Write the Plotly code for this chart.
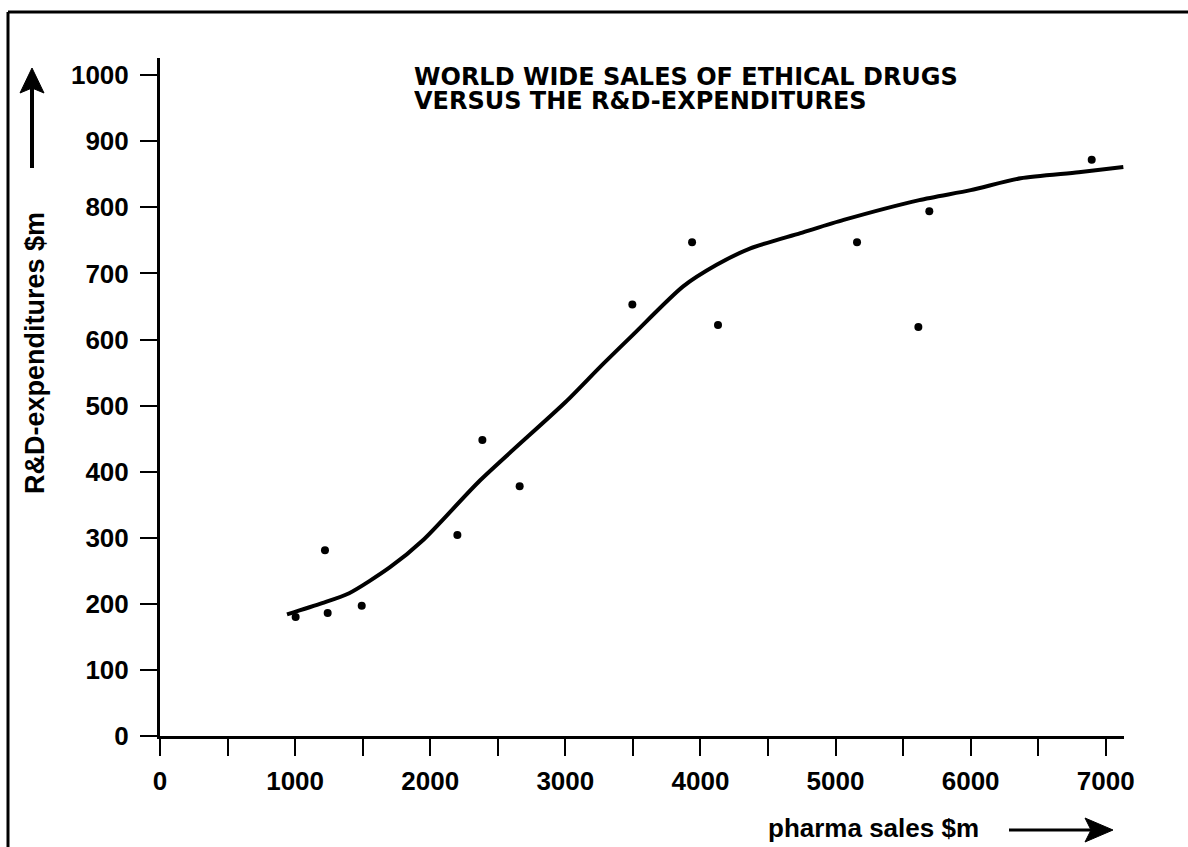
import plotly.graph_objects as go

# ---- data ----
sales = [1004, 1221, 1241, 1493, 2201, 2386, 2662, 3496, 3938, 4130, 5159, 5613, 5694, 6896]
rnd = [180, 281, 186, 197, 304, 448, 378, 653, 747, 622, 747, 619, 794, 872]

fit_x = [940, 1200, 1400, 1700, 1950, 2370, 3000, 3260, 3500, 3870, 4120, 4370, 4740, 5060, 5620, 6000, 6370, 6800, 7130]
fit_y = [184, 201, 216, 255, 297, 387, 505, 559, 607, 680, 713, 738, 761, 781, 811, 826, 844, 853, 861]

x_ticks = [0, 1000, 2000, 3000, 4000, 5000, 6000, 7000]
x_minor = [500, 1500, 2500, 3500, 4500, 5500, 6500]
y_ticks = [0, 100, 200, 300, 400, 500, 600, 700, 800, 900, 1000]

title_lines = ["WORLD WIDE SALES OF ETHICAL DRUGS", "VERSUS THE R&D-EXPENDITURES"]
x_title = "pharma sales $m"
y_title = "R&D-expenditures $m"

# ---- layout geometry (pixels) ----
W, H = 1188, 847
L, R, T, B = 160, 64, 58, 111
PW, PH = W - L - R, H - T - B


def px(x):
    return (x - L) / PW


def py(y):
    return (H - B - y) / PH


fig = go.Figure()
fig.add_trace(go.Scatter(x=fit_x, y=fit_y, mode="lines",
                         line=dict(color="black", width=4, shape="spline", smoothing=0.7),
                         hoverinfo="skip"))
fig.add_trace(go.Scatter(x=sales, y=rnd, mode="markers",
                         marker=dict(color="black", size=8)))

tick_font = dict(family="Liberation Sans, Arial, sans-serif", size=26, color="black", weight="bold")

fig.update_layout(
    width=W, height=H,
    margin=dict(l=L, r=R, t=T, b=B, pad=0),
    paper_bgcolor="white", plot_bgcolor="white",
    showlegend=False,
    xaxis=dict(range=[0, 7135], tickvals=x_ticks, ticktext=[str(v) for v in x_ticks],
               showgrid=False, zeroline=False, showline=True, linecolor="black", linewidth=3,
               ticks="outside", ticklen=17, tickwidth=2, tickcolor="black",
               tickfont=tick_font, ticklabelstandoff=3,
               minor=dict(tickvals=x_minor, ticks="outside", ticklen=17, tickwidth=2,
                          tickcolor="black", showgrid=False)),
    yaxis=dict(range=[0, 1026], tickvals=y_ticks, ticktext=[str(v) for v in y_ticks],
               showgrid=False, zeroline=False, showline=True, linecolor="black", linewidth=3,
               ticks="outside", ticklen=17, tickwidth=2, tickcolor="black",
               tickfont=tick_font, ticklabelstandoff=6),
)

shapes = []
# frame (top and left)
shapes.append(dict(type="line", xref="paper", yref="paper", x0=px(8), y0=py(12), x1=px(1192), y1=py(12),
                   line=dict(color="black", width=3)))
shapes.append(dict(type="line", xref="paper", yref="paper", x0=px(8), y0=py(12), x1=px(8), y1=py(850),
                   line=dict(color="black", width=3)))
# y arrow
shapes.append(dict(type="line", xref="paper", yref="paper", x0=px(32), y0=py(168), x1=px(32), y1=py(88),
                   line=dict(color="black", width=4)))
shapes.append(dict(type="path", xref="paper", yref="paper",
                   path=f"M {px(32)} {py(68)} L {px(20)} {py(93)} L {px(32)} {py(88)} L {px(44)} {py(93)} Z",
                   fillcolor="black", line=dict(color="black", width=1)))
# x arrow
shapes.append(dict(type="line", xref="paper", yref="paper", x0=px(1009), y0=py(830), x1=px(1092), y1=py(830),
                   line=dict(color="black", width=3)))
shapes.append(dict(type="path", xref="paper", yref="paper",
                   path=f"M {px(1113)} {py(830)} L {px(1085)} {py(818)} L {px(1091)} {py(830)} L {px(1085)} {py(842)} Z",
                   fillcolor="black", line=dict(color="black", width=1)))
fig.update_layout(shapes=shapes)

title_font = dict(family="DejaVu Sans, sans-serif", size=24, color="black", weight="bold")
label_font = dict(family="Liberation Sans, Arial, sans-serif", size=26, color="black", weight="bold")
annotations = [
    dict(text=title_lines[0], xref="paper", yref="paper", x=px(413), y=py(77),
         xanchor="left", yanchor="middle", showarrow=False, font=title_font,
         height=22, valign="middle", borderpad=0),
    dict(text=title_lines[1], xref="paper", yref="paper", x=px(413), y=py(101),
         xanchor="left", yanchor="middle", showarrow=False, font=title_font,
         height=22, valign="middle", borderpad=0),
    dict(text=x_title, xref="paper", yref="paper", x=px(766), y=py(828),
         xanchor="left", yanchor="middle", showarrow=False, font=label_font),
    dict(text=y_title, xref="paper", yref="paper", x=px(35), y=py(353),
         xanchor="center", yanchor="middle", textangle=-90, showarrow=False,
         font=dict(family="Liberation Sans, Arial, sans-serif", size=27, color="black", weight="bold")),
]
fig.update_layout(annotations=annotations)

fig.write_html("out.html", config={"displayModeBar": False},
               post_script="document.body.style.margin='0';document.body.style.overflow='hidden';")
